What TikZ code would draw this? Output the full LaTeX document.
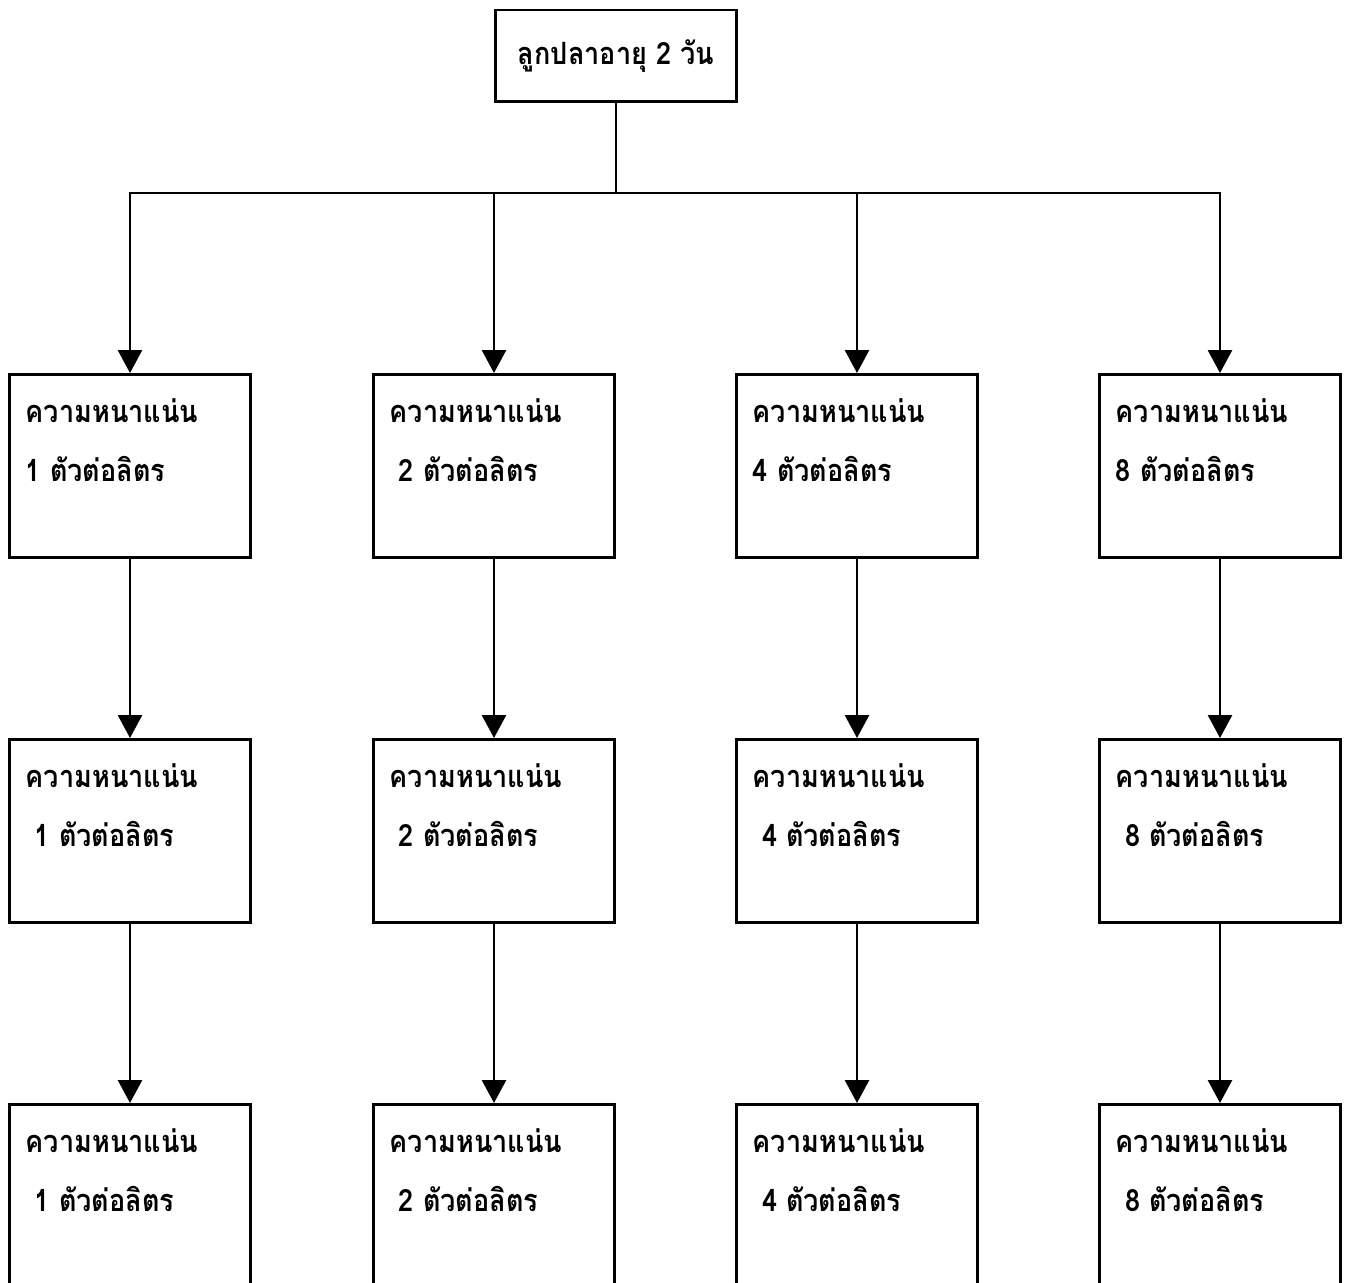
\documentclass[tikz,border=0pt]{standalone}
\usepackage{fontspec}
\newfontfamily\thaifont[Script=Thai,FakeStretch=0.88]{Loma}
\usetikzlibrary{arrows.meta}
\tikzset{
  denbox/.style={draw, line width=1.7pt, minimum width=4.84cm, minimum height=3.66cm, inner sep=0pt},
  dentext/.style={font=\thaifont\bfseries\fontsize{17.5}{21}\selectfont, inner sep=0pt},
  flow/.style={line width=1.6pt, -{Triangle[length=0.46cm,width=0.48cm]}}
}
\newcommand\denbox[4]{%
  \node[denbox] (#1) at (#2,#3) {};
  \node[dentext, anchor=base west] (#1top) at ([shift={(18,49)}]#1.north west) {ความหนาแน่น};
  \node[dentext, anchor=base west] (#1bot) at ([shift={(18,108)}]#1.north west) {#4};
}

\begin{document}
\begin{tikzpicture}[x=0.02cm,y=-0.02cm]
		\useasboundingbox (0,0) rectangle (1347,1283);
		\clip (0,0) rectangle (1347,1283);
		%%%%% START %%%%%
		
		\node[draw, line width=1.7pt, minimum width=4.84cm, minimum height=1.84cm, dentext] (fry) at (616,56) {ลูกปลาอายุ 2 วัน};
		\coordinate (split) at (616,193);
		
		\denbox{r1c1}{130}{466}{1 ตัวต่อลิตร}
		\denbox{r1c2}{494}{466}{~2 ตัวต่อลิตร}
		\denbox{r1c3}{857}{466}{4 ตัวต่อลิตร}
		\denbox{r1c4}{1220}{466}{8 ตัวต่อลิตร}
		
		\denbox{r2c1}{130}{831}{~1 ตัวต่อลิตร}
		\denbox{r2c2}{494}{831}{~2 ตัวต่อลิตร}
		\denbox{r2c3}{857}{831}{~4 ตัวต่อลิตร}
		\denbox{r2c4}{1220}{831}{~8 ตัวต่อลิตร}
		
		\denbox{r3c1}{130}{1196}{~1 ตัวต่อลิตร}
		\denbox{r3c2}{494}{1196}{~2 ตัวต่อลิตร}
		\denbox{r3c3}{857}{1196}{~4 ตัวต่อลิตร}
		\denbox{r3c4}{1220}{1196}{~8 ตัวต่อลิตร}
		
		\draw[line width=1.6pt] (fry.south) -- (split);
		\foreach \c in {1,2,3,4} {
			\draw[flow] (split) -| (r1c\c.north);
			\draw[flow] (r1c\c.south) -- (r2c\c.north);
			\draw[flow] (r2c\c.south) -- (r3c\c.north);
		}
		
		%%%%% END %%%%%
\end{tikzpicture}
\end{document}
